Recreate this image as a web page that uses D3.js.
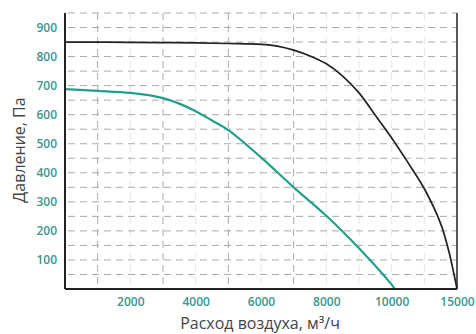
<!DOCTYPE html>
<html>
<head>
<meta charset="utf-8">
<script src="https://cdn.jsdelivr.net/npm/d3@7"></script>
<style>
  body { margin: 0; background: #fff; }
  svg { display: block; }
</style>
</head>
<body>
<div id="chart"></div>
<script>
// chart data
const blackFlow = [0, 1000, 2000, 3000, 4000, 5000, 6000, 6500, 7000, 7500, 8000, 8500, 9000, 9500, 10000, 10500, 11000, 11500, 11750, 11900, 12000];
const blackPressure = [850, 850, 849, 848, 847, 845, 842, 836, 822, 802, 775, 733, 675, 598, 520, 435, 345, 225, 130, 55, 0];
const tealFlow = [0, 1000, 2000, 2500, 3000, 3500, 4000, 4500, 5000, 6000, 7000, 8000, 9000, 10000, 10100];
const tealPressure = [688, 682, 675, 668, 657, 638, 612, 580, 547, 453, 350, 252, 140, 15, 0];

const yTicks = [100, 200, 300, 400, 500, 600, 700, 800, 900];
const xTicks = [2000, 4000, 6000, 8000, 10000, 12000];
const xTickLabels = ["2000", "4000", "6000", "8000", "10000", "15000"];
const xMajorGrid = [1000, 3000, 5000, 7000];
const xMinorGrid = [2000, 4000, 6000, 8000, 9000, 10000, 11000];
const yGrid = d3.range(50, 951, 50);

const margin = {top: 13, right: 19, bottom: 45, left: 65},
    width = 476 - margin.left - margin.right,
    height = 334 - margin.top - margin.bottom;

const svg = d3.select("#chart")
  .append("svg")
    .attr("width", 476)
    .attr("height", 334)
  .append("g")
    .attr("transform", `translate(${margin.left},${margin.top})`);

const x = d3.scaleLinear().domain([0, 12000]).range([0, width]);
const y = d3.scaleLinear().domain([0, 950]).range([height, 0]);

// faint vertical grid
svg.selectAll(".vminor")
  .data(xMinorGrid)
  .join("line")
    .attr("x1", d => x(d)).attr("x2", d => x(d))
    .attr("y1", 0).attr("y2", height)
    .attr("stroke", "#e4e4e4")
    .attr("stroke-width", 1)
    .attr("stroke-dasharray", "7,5");

// darker vertical grid
svg.selectAll(".vmajor")
  .data(xMajorGrid)
  .join("line")
    .attr("x1", d => x(d)).attr("x2", d => x(d))
    .attr("y1", 0).attr("y2", height)
    .attr("stroke", "#aaa")
    .attr("stroke-width", 1)
    .attr("stroke-dasharray", "7,5");

// horizontal dashed grid
svg.selectAll(".hgrid")
  .data(yGrid)
  .join("line")
    .attr("x1", 0).attr("x2", width)
    .attr("y1", d => y(d)).attr("y2", d => y(d))
    .attr("stroke", "#aaa")
    .attr("stroke-width", 1)
    .attr("stroke-dasharray", "7,5")
    .attr("stroke-dashoffset", -3);

// curves
const line = d3.line()
  .x(d => x(d[0]))
  .y(d => y(d[1]))
  .curve(d3.curveCatmullRom.alpha(0.5));

svg.append("path")
  .datum(tealFlow.map((f, i) => [f, tealPressure[i]]))
  .attr("fill", "none")
  .attr("stroke", "#23a08c")
  .attr("stroke-width", 2.2)
  .attr("d", line);

svg.append("path")
  .datum(blackFlow.map((f, i) => [f, blackPressure[i]]))
  .attr("fill", "none")
  .attr("stroke", "#222")
  .attr("stroke-width", 1.7)
  .attr("d", line);

// axis lines
svg.append("line")
  .attr("x1", 0).attr("x2", 0).attr("y1", 0).attr("y2", height)
  .attr("stroke", "#222").attr("stroke-width", 2);
svg.append("line")
  .attr("x1", width).attr("x2", width).attr("y1", 0).attr("y2", height)
  .attr("stroke", "#222").attr("stroke-width", 1.5);
svg.append("line")
  .attr("x1", 0).attr("x2", width).attr("y1", height).attr("y2", height)
  .attr("stroke", "#222").attr("stroke-width", 2);

// tick labels
const yAxis = svg.append("g")
  .call(d3.axisLeft(y).tickValues(yTicks).tickSize(0).tickPadding(8));
yAxis.select(".domain").remove();
yAxis.selectAll("text")
  .attr("fill", "#3a9690")
  .style("font-family", "'Open Sans', sans-serif")
  .style("font-size", "12px")
  .style("font-weight", "600");

const xAxis = svg.append("g")
  .attr("transform", `translate(0, ${height})`)
  .call(d3.axisBottom(x).tickValues(xTicks).tickSize(0).tickPadding(8)
    .tickFormat((d, i) => xTickLabels[i]));
xAxis.select(".domain").remove();
xAxis.selectAll("text")
  .attr("fill", "#3a9690")
  .style("font-family", "'Open Sans', sans-serif")
  .style("font-size", "12px")
  .style("font-weight", "600");

// axis titles
svg.append("text")
  .attr("x", 260 - margin.left)
  .attr("y", 329 - margin.top)
  .attr("text-anchor", "middle")
  .attr("fill", "#444")
  .style("font-family", "'Open Sans', sans-serif")
  .style("font-size", "16px")
  .text("Расход воздуха, м³/ч");

svg.append("text")
  .attr("transform", `translate(${25 - margin.left}, ${150 - margin.top}) rotate(-90)`)
  .attr("text-anchor", "middle")
  .attr("fill", "#444")
  .style("font-family", "'Open Sans', sans-serif")
  .style("font-size", "16px")
  .text("Давление, Па");
</script>
</body>
</html>
